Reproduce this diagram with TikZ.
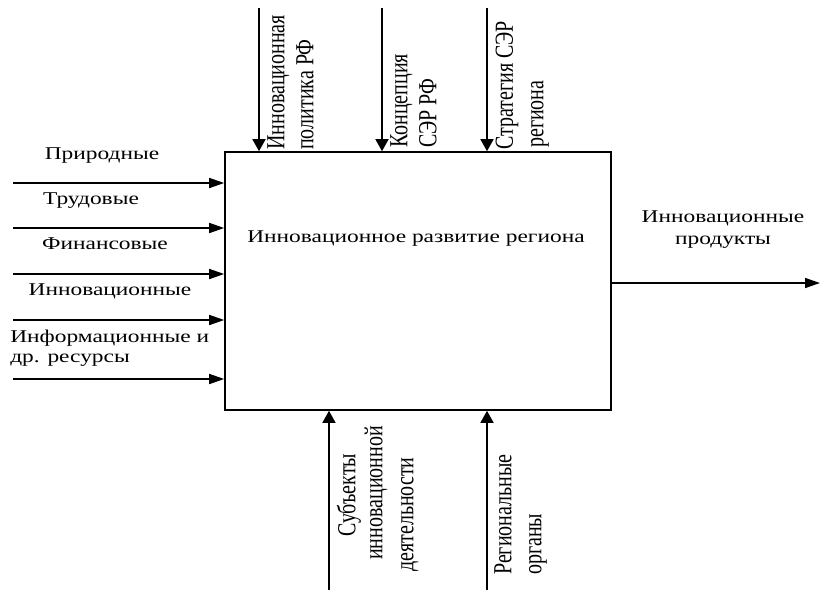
\documentclass[tikz,border=0pt]{standalone}
\usepackage{fontspec}
\setmainfont{Liberation Serif}
\usetikzlibrary{arrows.meta}
\tikzset{
  lbl/.style={font=\fontsize{18}{20}\selectfont, inner sep=0pt, text height=0.66em, text depth=0pt, xscale=1.3},
  vlbl/.style={font=\fontsize{20}{22}\selectfont, inner sep=0pt, text height=0.66em, text depth=0pt, xscale=1.3, rotate=90, anchor=west},
  harr/.style={line width=1.5pt, -{Triangle[length=15pt,width=10pt]}},
  varr/.style={line width=1.5pt, -{Triangle[length=12pt,width=13pt]}},
}
\begin{document}
\begin{tikzpicture}[x=1pt,y=-1pt]
\useasboundingbox (0,0) rectangle (822,590);
% main box
\node[draw, line width=1.6pt, minimum width=386pt, minimum height=258pt, inner sep=0pt] (box) at (418,281) {};
\node[lbl] (title) at (416,239) {Инновационное развитие региона};
% inputs
\coordinate (i1) at (13,183);
\coordinate (i2) at (13,228);
\coordinate (i3) at (13,274);
\coordinate (i4) at (13,320);
\coordinate (i5) at (13,379);
\foreach \c in {i1,i2,i3,i4,i5} \draw[harr] (\c) -- (\c -| box.west);
\node[lbl] (t1) at (102,156) {Природные};
\node[lbl] (t2) at (91,201) {Трудовые};
\node[lbl] (t3) at (105,246) {Финансовые};
\node[lbl] (t4) at (110,292) {Инновационные};
\node[lbl, anchor=west] (t5) at (10,339) {Информационные и};
\node[lbl, anchor=west] (t6) at (10,359) {др. ресурсы};
% output
\coordinate (o1) at (820,283);
\draw[harr] (o1 -| box.east) -- (o1);
\node[lbl] (out1) at (723,219) {Инновационные};
\node[lbl] (out2) at (723,241) {продукты};
% controls
\coordinate (c1) at (259,8);
\coordinate (c2) at (382,8);
\coordinate (c3) at (487,8);
\foreach \c in {c1,c2,c3} \draw[varr] (\c) -- (\c |- box.north);
\node[vlbl] (ct1) at (280,150) {Инновационная};
\node[vlbl] (ct2) at (309,150) {политика РФ};
\node[vlbl] (ct3) at (403,148) {Концепция};
\node[vlbl] (ct4) at (432,148) {СЭР РФ};
\node[vlbl] (ct5) at (508.5,150) {Стратегия СЭР};
\node[vlbl] (ct6) at (539,148) {региона};
% mechanisms
\coordinate (m1) at (329,590);
\coordinate (m2) at (487,590);
\foreach \c in {m1,m2} \draw[varr] (\c) -- (\c |- box.south);
\node[vlbl] (mt1) at (351,537) {Субъекты};
\node[vlbl] (mt2) at (378,560) {инновационной};
\node[vlbl] (mt3) at (409,572) {деятельности};
\node[vlbl] (mt4) at (507,575) {Региональные};
\node[vlbl] (mt5) at (537,575) {органы};
\end{tikzpicture}
\end{document}
